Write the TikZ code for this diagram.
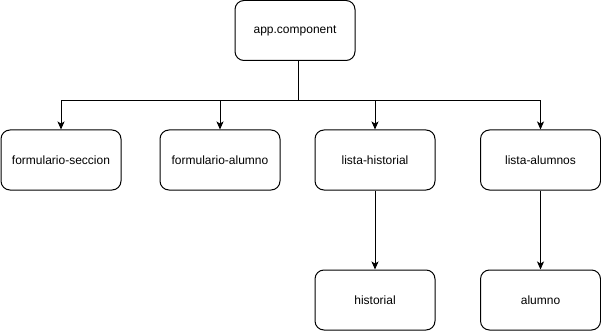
\documentclass[tikz,border=0pt]{standalone}
\usepackage{fontspec}
\setmainfont{Liberation Sans}
\usetikzlibrary{arrows.meta}

\begin{document}
\begin{tikzpicture}[x=1pt,y=-1pt,
    comp/.style={draw, line width=1pt, rounded corners=9pt,
        minimum width=120pt, minimum height=60pt, inner sep=0pt,
        font=\fontsize{12}{14}\selectfont},
    flecha/.style={line width=1pt, -{Stealth[length=8pt,width=7pt,inset=2pt]}}]
    \useasboundingbox (0,0) rectangle (601,331);

    % componente raiz
    \node[comp] (app) at (295,30.5) {app.component};

    % primer nivel
    \node[comp] (fsec) at (61,160) {formulario-seccion};
    \node[comp] (falum) at (220,160) {formulario-alumno};
    \node[comp] (lhist) at (375,160) {lista-historial};
    \node[comp] (lalum) at (540.5,160) {lista-alumnos};

    % segundo nivel
    \node[comp] (hist) at (375,300) {historial};
    \node[comp] (alum) at (540.5,300) {alumno};

    % conexiones
    \foreach \hijo in {fsec,falum,lhist,lalum} {
        \draw[flecha] ([xshift=3pt]app.south) -- ++(0,40) -| (\hijo.north);
    }
    \draw[flecha] (lhist) -- (hist);
    \draw[flecha] (lalum) -- (alum);
\end{tikzpicture}
\end{document}
